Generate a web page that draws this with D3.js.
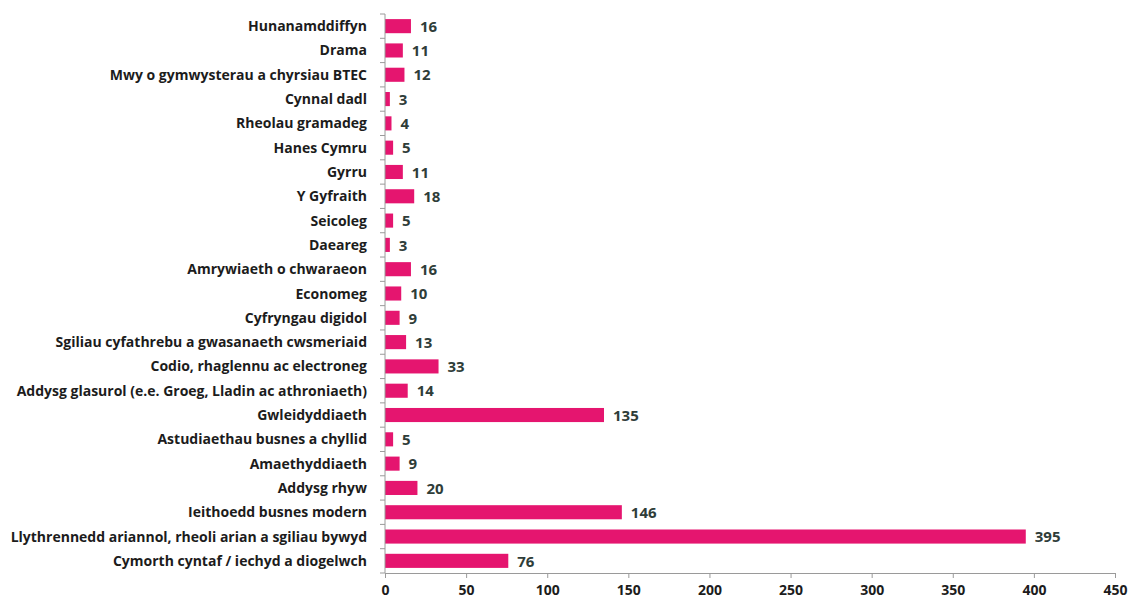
<!DOCTYPE html>
<html><head><meta charset="utf-8">
<script src="https://cdn.jsdelivr.net/npm/d3@7"></script>
<style>
html,body{margin:0;padding:0;background:#fff;}
svg{display:block;font-family:"Open Sans","Noto Sans",sans-serif;}
</style></head>
<body>
<svg id="chart" width="1135" height="601"></svg>
<script>
const categories = [
  "Hunanamddiffyn",
  "Drama",
  "Mwy o gymwysterau a chyrsiau BTEC",
  "Cynnal dadl",
  "Rheolau gramadeg",
  "Hanes Cymru",
  "Gyrru",
  "Y Gyfraith",
  "Seicoleg",
  "Daeareg",
  "Amrywiaeth o chwaraeon",
  "Economeg",
  "Cyfryngau digidol",
  "Sgiliau cyfathrebu a gwasanaeth cwsmeriaid",
  "Codio, rhaglennu ac electroneg",
  "Addysg glasurol (e.e. Groeg, Lladin ac athroniaeth)",
  "Gwleidyddiaeth",
  "Astudiaethau busnes a chyllid",
  "Amaethyddiaeth",
  "Addysg rhyw",
  "Ieithoedd busnes modern",
  "Llythrennedd ariannol, rheoli arian a sgiliau bywyd",
  "Cymorth cyntaf / iechyd a diogelwch"
];
const values = [16, 11, 12, 3, 4, 5, 11, 18, 5, 3, 16, 10, 9, 13, 33, 14, 135, 5, 9, 20, 146, 395, 76];
const xTicks = [0, 50, 100, 150, 200, 250, 300, 350, 400, 450];

(function () {
const svg = d3.select("#chart");
const mLeft = 385, mRight = 1115, mTop = 14, mBottom = 573;

const x = d3.scaleLinear().domain([0, 450]).range([mLeft, mRight]);
const y = d3.scaleBand().domain(categories).range([mTop, mBottom]).paddingInner(0.42).paddingOuter(0.21);

const axisColor = "#9a9a9a";

svg.append("g").selectAll("rect").data(values).join("rect")
  .attr("x", x(0))
  .attr("y", (d, i) => y(categories[i]))
  .attr("width", d => x(d) - x(0))
  .attr("height", y.bandwidth())
  .attr("fill", "#e5156f");

svg.append("line").attr("x1", mLeft).attr("x2", mLeft).attr("y1", mTop).attr("y2", mBottom)
  .attr("stroke", axisColor).attr("stroke-width", 1);
const boundaries = d3.range(categories.length + 1).map(i => mTop + i * y.step());
svg.append("g").selectAll("line").data(boundaries).join("line")
  .attr("x1", mLeft - 5).attr("x2", mLeft).attr("y1", d => d).attr("y2", d => d)
  .attr("stroke", axisColor).attr("stroke-width", 1);

svg.append("g").selectAll("text").data(categories).join("text")
  .attr("x", mLeft - 18)
  .attr("y", d => y(d) + y.bandwidth() / 2)
  .attr("dy", "0.36em")
  .attr("text-anchor", "end")
  .attr("font-size", 14)
  .attr("font-weight", 700)
  .attr("fill", "#1c1c1c")
  .text(d => d);

svg.append("g").selectAll("text").data(values).join("text")
  .attr("x", d => x(d) + 9)
  .attr("y", (d, i) => y(categories[i]) + y.bandwidth() / 2)
  .attr("dy", "0.38em")
  .attr("font-size", 15)
  .attr("font-weight", 700)
  .attr("fill", "#2f3d39")
  .text(d => d);

const xAxis = d3.axisBottom(x).tickValues(xTicks).tickSize(5).tickSizeOuter(0);
const gx = svg.append("g").attr("transform", `translate(0,${mBottom})`).call(xAxis);
gx.select(".domain").attr("stroke", axisColor);
gx.selectAll(".tick line").attr("stroke", axisColor);
gx.selectAll(".tick text").attr("font-size", 14).attr("font-weight", 700).attr("fill", "#1c1c1c")
  .attr("font-family", "'Open Sans','Noto Sans',sans-serif").attr("y", 12).attr("dy", "0.71em");
})();
</script>
</body></html>
